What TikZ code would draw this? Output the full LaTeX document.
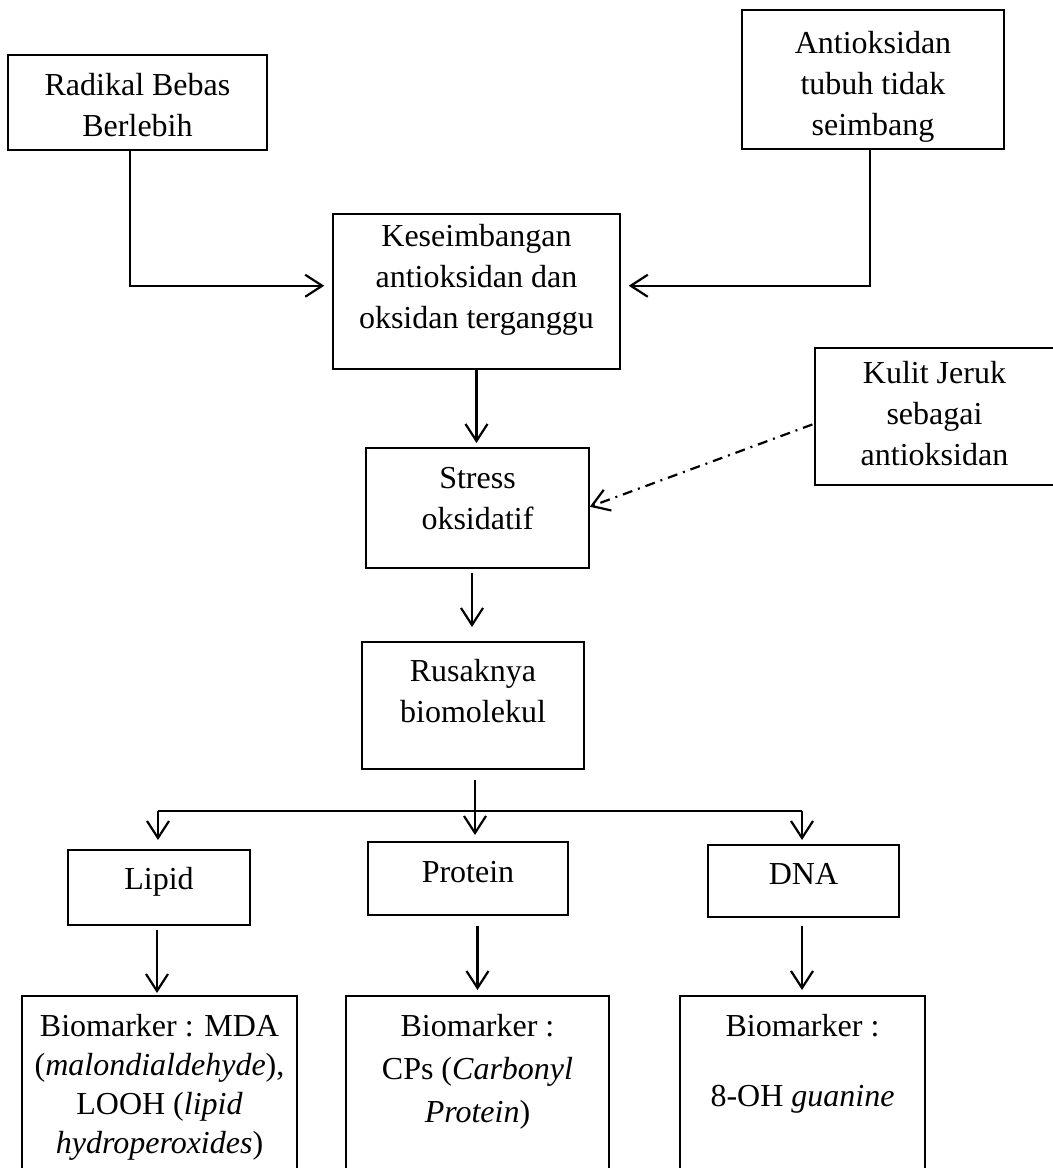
\documentclass[tikz,border=0pt]{standalone}
\usepackage{fontspec}
\setmainfont{Liberation Serif}
\usetikzlibrary{calc, positioning, arrows.meta}

\tikzset{
  box/.style={draw, line width=0.75pt, anchor=north, align=flush center, inner sep=0pt,
    text height=20pt, font=\fontsize{16}{20.5}\selectfont},
  biobox/.style={box, text height=20.5pt, text depth=120pt, font=\fontsize{16}{19.5}\selectfont},
  arr/.style={line width=1.1pt, -{Straight Barb[length=8.5pt, width=11pt]}},
  dashdot/.style={arr, dash pattern=on 5pt off 3pt on 1pt off 3pt}
}

\begin{document}
\begin{tikzpicture}[x=0.5pt, y=-0.5pt]
  \useasboundingbox (0,0) rectangle (1053,1168);
  \clip (0,0) rectangle (1053,1168);

  % upper chain
  \node[box, text width=129.5pt, text height=20.5pt, text depth=27pt] (radikal) at (137.5,54) {Radikal Bebas\\Berlebih};
  \node[box, text width=131pt, text height=22pt, text depth=47.5pt] (antitubuh) at (873,9) {Antioksidan\\tubuh tidak\\seimbang};
  \node[box, text width=143.5pt, text height=16.5pt, text depth=61pt] (imbang) at (476.5,213) {Keseimbangan\\antioksidan dan\\oksidan terganggu};
  \node[box, text width=111.5pt, text height=20.5pt, text depth=39.5pt] (stress) at (477.5,447) {Stress\\oksidatif};
  \node[box, text width=119.5pt, text height=18pt, text depth=50.5pt] (kulit) at (934.5,347) {Kulit Jeruk\\sebagai\\antioksidan};
  \node[box, text width=111pt, text depth=43.5pt] (rusak) at (473,641) {Rusaknya\\biomolekul};

  % biomolecules
  \node[box, text width=91pt, text depth=17.5pt] (lipid) at (159,849) {Lipid};
  \node[box, text width=100pt, text height=20.5pt, text depth=16pt] (protein) at (468,841) {Protein};
  \node[box, text width=95.5pt, text depth=16pt] (dna) at (803.5,844) {DNA};

  % biomarkers
  \node[biobox, text width=137.5pt] (biolipid) at (159.5,995) {Biomarker : MDA\\(\textit{malondialdehyde}),\\LOOH (\textit{lipid}\\\textit{hydroperoxides})};
  \node[biobox, text width=131.5pt] (bioprotein) at (477.5,995) {Biomarker :\\[2pt]CPs (\textit{Carbonyl}\\[2pt]\textit{Protein})};
  \node[biobox, text width=122.5pt] (biodna) at (802.5,995) {Biomarker :\\[15.5pt]8-OH \textit{guanine}};

  % connectors
  \draw[arr, shorten >=4pt] ([xshift=-3.75pt]radikal.south) |- ([yshift=2.75pt]imbang.west);
  \draw[arr, shorten >=4pt] ([xshift=-1.5pt]antitubuh.south) |- ([yshift=2.75pt]imbang.east);
  \draw[arr, shorten >=2pt] (imbang.south) -- (imbang.south |- stress.north);
  \draw[dashdot, shorten <=1pt] ([yshift=-3.75pt]kulit.west) -- ([yshift=0.5pt]stress.east);
  \draw[arr, shorten <=2pt, shorten >=7pt] ([xshift=-2.75pt]stress.south) -- ([xshift=-2.75pt]stress.south |- rusak.north);
  \draw[arr, shorten <=5pt, shorten >=3pt] ([xshift=1pt]rusak.south) -- ([xshift=1pt]rusak.south |- protein.north);

  \coordinate (fork) at (475,811);
  \draw[line width=1.1pt] ([xshift=-0.5pt]fork -| lipid.north) -- ([xshift=-0.75pt]fork -| dna.north);
  \draw[arr, shorten >=4.5pt] ([xshift=-0.5pt]fork -| lipid.north) -- ([xshift=-0.5pt]lipid.north);
  \draw[arr, shorten >=2pt] ([xshift=-0.75pt]fork -| dna.north) -- ([xshift=-0.75pt]dna.north);

  \draw[arr, shorten <=2pt, shorten >=1pt] ([xshift=-1pt]lipid.south) -- ([xshift=-1pt]lipid.south |- biolipid.north);
  \draw[arr, shorten <=5pt, shorten >=2.5pt] (protein.south -| bioprotein.north) -- (bioprotein.north);
  \draw[arr, shorten <=4pt, shorten >=2.5pt] ([xshift=-0.75pt]dna.south) -- ([xshift=-0.75pt]dna.south |- biodna.north);
\end{tikzpicture}
\end{document}
